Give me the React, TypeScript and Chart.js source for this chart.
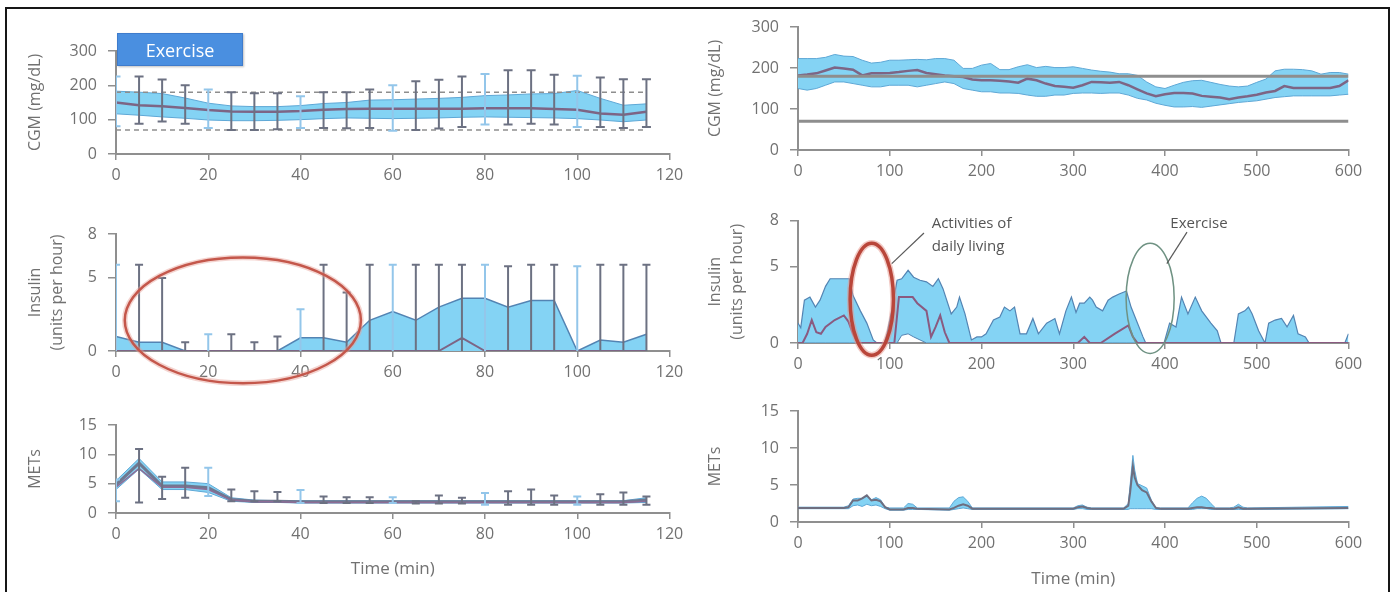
import React, { useEffect, useRef } from "react";
import { Chart, registerables } from "chart.js";

Chart.register(...registerables);

// ================= Left column: exercise session (5-min bins) =================
const exTimes = [0, 5, 10, 15, 20, 25, 30, 35, 40, 45, 50, 55, 60, 65, 70, 75, 80, 85, 90, 95, 100, 105, 110, 115];

const exCgmUpper = [183, 180, 176, 163, 148, 140, 138, 138, 141, 147, 150, 157, 158, 160, 162, 165, 170, 172, 175, 176, 185, 162, 142, 146];
const exCgmLower = [117, 113, 108, 104, 99, 97, 97, 98, 100, 103, 105, 104, 103, 104, 105, 107, 108, 107, 106, 105, 103, 99, 94, 99];
const exCgmMean = [150, 142, 139, 134, 128, 124, 123, 123, 125, 129, 131, 132, 132, 132, 132, 132, 133, 133, 133, 131, 129, 118, 114, 123];
const exCgmHigh = [226, 226, 217, 200, 188, 180, 177, 177, 168, 180, 180, 188, 200, 212, 216, 226, 233, 244, 244, 231, 228, 223, 218, 218];
const exCgmLow = [81, 88, 95, 88, 76, 70, 70, 72, 76, 76, 75, 76, 68, 70, 74, 79, 86, 86, 88, 86, 79, 79, 76, 79];
const cgmTargetHigh = 180;
const cgmTargetLow = 70;

const exInsulinUpper = [1.0, 0.6, 0.6, 0, 0, 0, 0, 0, 0.9, 0.9, 0.6, 2.1, 2.7, 2.1, 3.0, 3.6, 3.6, 3.0, 3.45, 3.45, 0, 0.75, 0.6, 1.15];
const exInsulinMean = [0, 0, 0, 0, 0, 0, 0, 0, 0, 0, 0, 0, 0, 0, 0, 0.9, 0, 0, 0, 0, 0, 0, 0, 0];
const exInsulinHigh = [5.9, 5.9, 5.0, 0.6, 1.15, 1.15, 0.6, 1.0, 2.85, 5.9, 4.0, 5.9, 5.9, 5.9, 5.9, 5.9, 5.9, 5.8, 5.9, 5.9, 5.8, 5.9, 5.9, 5.9];
const insulinBaseline = 0;

const exMetsUpper = [5.5, 9.3, 5.3, 5.3, 5.0, 2.6, 2.2, 2.1, 2.1, 2.1, 2.1, 2.1, 2.1, 2.1, 2.1, 2.1, 2.1, 2.1, 2.1, 2.1, 2.1, 2.1, 2.1, 2.6];
const exMetsMean = [4.8, 8.5, 4.6, 4.6, 4.3, 2.3, 2.0, 2.0, 1.9, 1.9, 1.9, 1.9, 1.9, 1.9, 1.9, 1.9, 1.9, 1.9, 1.9, 1.9, 1.9, 1.9, 1.9, 2.2];
const exMetsMedian = [4.4, 7.6, 4.4, 4.4, 4.0, 2.2, 1.9, 1.9, 1.8, 1.8, 1.8, 1.8, 1.8, 1.8, 1.8, 1.8, 1.8, 1.8, 1.8, 1.8, 1.8, 1.8, 1.8, 2.0];
const exMetsLower = [4.0, 7.5, 4.0, 4.0, 3.5, 2.0, 1.8, 1.8, 1.7, 1.7, 1.7, 1.7, 1.7, 1.7, 1.7, 1.7, 1.7, 1.7, 1.7, 1.7, 1.7, 1.7, 1.7, 1.8];
const exMetsHigh = [5.7, 10.9, 6.2, 7.7, 7.7, 4.0, 3.7, 3.6, 3.9, 2.8, 2.7, 2.7, 2.7, 2.0, 3.0, 2.6, 3.4, 3.7, 4.0, 3.0, 2.8, 3.2, 3.5, 2.8];
const exMetsLow = [2.0, 1.8, 2.4, 2.6, 2.9, 2.0, 2.0, 2.0, 1.7, 1.7, 1.7, 1.7, 1.7, 1.6, 1.6, 1.6, 1.4, 1.4, 1.4, 1.4, 1.4, 1.4, 1.4, 1.4];

// ================= Right column: full day (0-600 min) =================
const dayCgmTimes = [0, 10, 20, 30, 40, 50, 60, 70, 80, 90, 100, 110, 120, 130, 140, 150, 160, 170, 180, 190, 200, 210, 220, 230, 240, 250, 260, 270, 280, 290, 300, 310, 320, 330, 340, 350, 360, 370, 380, 390, 400, 410, 420, 430, 440, 450, 460, 470, 480, 490, 500, 510, 520, 530, 540, 550, 560, 570, 580, 590, 600];
const dayCgmUpper = [223, 223, 223, 226, 233, 229, 228, 219, 212, 214, 219, 219, 220, 221, 220, 223, 223, 219, 199, 199, 207, 211, 196, 196, 203, 208, 201, 204, 201, 201, 203, 199, 195, 192, 190, 186, 186, 182, 166, 154, 150, 158, 165, 169, 170, 165, 160, 156, 154, 156, 165, 173, 193, 197, 197, 196, 193, 185, 189, 189, 185];
const dayCgmLower = [150, 146, 150, 158, 166, 166, 162, 158, 154, 154, 158, 158, 158, 154, 158, 162, 166, 162, 150, 146, 142, 142, 139, 139, 138, 134, 131, 131, 134, 134, 138, 139, 139, 138, 139, 139, 134, 126, 122, 114, 109, 105, 105, 106, 104, 107, 110, 113, 116, 118, 120, 124, 128, 130, 132, 132, 132, 132, 132, 134, 136];
const dayCgmMean = [182, 184, 187, 194, 201, 199, 196, 182, 187, 187, 188, 190, 193, 195, 188, 185, 182, 180, 178, 172, 170, 170, 169, 167, 164, 174, 170, 162, 156, 154, 152, 158, 166, 165, 164, 166, 158, 148, 138, 131, 136, 139, 139, 138, 132, 130, 128, 124, 128, 131, 135, 140, 144, 156, 151, 151, 151, 151, 151, 156, 170];

const dayInsulinTimes = [0, 3, 7, 13, 19, 24, 30, 35, 56, 60, 68, 75, 82, 86, 94, 97, 102, 108, 113, 120, 126, 133, 140, 147, 153, 158, 167, 173, 176, 182, 189, 195, 200, 205, 213, 220, 225, 231, 236, 242, 249, 256, 262, 271, 280, 285, 292, 298, 303, 307, 312, 318, 321, 325, 332, 338, 343, 350, 358, 363, 368, 376, 379, 399, 405, 412, 418, 425, 433, 440, 450, 457, 461, 475, 480, 487, 491, 495, 502, 509, 513, 520, 527, 533, 540, 545, 553, 557, 596, 600];
const dayInsulinUpper = [1.3, 1.0, 2.8, 3.0, 2.35, 2.8, 3.7, 4.2, 4.2, 3.1, 2.1, 1.3, 0.2, 0, 0, 0.6, 2.1, 4.1, 4.2, 4.75, 4.3, 4.1, 4.0, 3.7, 4.2, 3.55, 1.9, 2.35, 3.0, 1.9, 0.2, 0.4, 0.4, 0.6, 1.5, 1.7, 2.35, 2.1, 2.35, 0.6, 0.6, 1.6, 0.6, 1.3, 1.6, 0.6, 2.1, 3.0, 2.0, 2.6, 2.6, 3.0, 2.8, 2.35, 2.1, 2.8, 3.0, 3.2, 3.4, 2.35, 1.6, 0.4, 0, 0, 1.3, 1.05, 3.0, 1.9, 3.0, 2.1, 1.3, 0.8, 0, 0, 1.9, 2.1, 2.35, 1.9, 0.8, 0, 1.3, 1.5, 1.6, 1.05, 1.8, 0.6, 0.4, 0, 0, 0.6];
const dayInsulinLower = [0, 0, 0, 0, 0, 0, 0, 0, 0, 0, 0, 0, 0, 0, 0, 0, 0, 0, 0.5, 0.6, 0.4, 0.2, 0, 0, 0, 0, 0, 0, 0, 0, 0, 0, 0, 0, 0, 0, 0, 0, 0, 0, 0, 0, 0, 0, 0, 0, 0, 0, 0, 0, 0, 0, 0, 0, 0, 0, 0, 0, 0, 0, 0, 0, 0, 0, 0, 0, 0, 0, 0, 0, 0, 0, 0, 0, 0, 0, 0, 0, 0, 0, 0, 0, 0, 0, 0, 0, 0, 0, 0, 0];
const dayInsulinMeanTimes = [0, 5, 10, 15, 20, 25, 30, 40, 50, 55, 60, 65, 105, 110, 125, 130, 140, 145, 150, 155, 160, 165, 305, 312, 318, 330, 345, 360, 365, 370, 600];
const dayInsulinMean = [0, 0, 0.6, 1.5, 0.7, 0.6, 1.05, 1.5, 1.8, 1.4, 0.6, 0, 0, 3.0, 3.0, 2.6, 2.1, 0.4, 1.05, 1.8, 0.7, 0, 0, 0.4, 0, 0, 0.6, 1.15, 0.4, 0, 0];

const dayMetsTimes = [0, 50, 55, 60, 65, 70, 75, 80, 85, 90, 95, 100, 115, 120, 125, 130, 165, 170, 175, 180, 185, 190, 300, 305, 310, 315, 320, 355, 360, 362, 365, 367, 370, 375, 380, 385, 390, 395, 425, 430, 435, 440, 445, 450, 455, 470, 475, 480, 485, 490, 600];
const dayMetsUpper = [2.0, 2.0, 2.2, 3.1, 3.2, 3.2, 3.5, 3.0, 3.3, 3.0, 2.0, 1.9, 1.9, 2.5, 2.4, 1.9, 1.9, 2.8, 3.3, 3.4, 2.8, 1.9, 1.9, 2.2, 2.3, 2.0, 1.9, 1.9, 2.5, 5.0, 9.0, 7.0, 5.2, 4.9, 4.6, 3.0, 1.9, 1.9, 1.9, 2.6, 3.2, 3.5, 3.2, 2.5, 1.9, 1.9, 2.0, 2.4, 2.0, 1.9, 2.1];
const dayMetsMean = [1.9, 1.9, 2.0, 2.9, 2.9, 3.2, 3.6, 2.9, 3.0, 2.8, 2.0, 1.7, 1.7, 1.9, 1.9, 1.8, 1.7, 1.9, 2.2, 2.4, 2.2, 1.8, 1.8, 2.0, 2.1, 1.9, 1.8, 1.8, 2.2, 4.0, 7.5, 6.0, 5.0, 4.3, 4.0, 2.8, 1.9, 1.8, 1.8, 1.9, 2.0, 2.0, 1.9, 1.9, 1.8, 1.8, 1.8, 2.0, 1.8, 1.8, 1.9];
const dayMetsLower = [1.8, 1.8, 1.8, 2.2, 2.3, 2.1, 2.4, 2.2, 2.3, 2.1, 1.8, 1.6, 1.6, 1.7, 1.7, 1.7, 1.6, 1.7, 1.8, 1.9, 1.8, 1.7, 1.7, 1.8, 1.8, 1.7, 1.7, 1.7, 1.7, 1.8, 1.8, 1.8, 1.8, 1.8, 1.8, 1.8, 1.7, 1.7, 1.7, 1.7, 1.8, 1.8, 1.8, 1.7, 1.7, 1.7, 1.7, 1.7, 1.7, 1.7, 1.8];

// ================= Axis tick labels =================
const cgmTicks = [0, 100, 200, 300];
const insulinTicks = [0, 5, 8];
const metsTicks = [0, 5, 10, 15];
const exTimeMax = 120;
const exTimeStep = 20;
const dayTimeMax = 600;
const dayTimeStep = 100;

// ================= Styles =================
const FONT = "'Open Sans', 'Noto Sans', sans-serif";
const TEXT = "#717171";
const AXIS = "#8f8f8f";
const BAND = "#84d3f4";
const BAND_EDGE = "#5fa8d6";
const INS_EDGE = "#5384b3";
const MEAN_PURPLE = "#7d6585";
const MEAN_GREY = "#6f7890";
const WHISKER_DARK = "#6c7182";
const WHISKER_LIGHT = "#93c6ea";
const REF_GREY = "#8e8e8e";

const pts = (xs: number[], ys: number[]) => xs.map((x, i) => ({ x, y: ys[i] }));
const flat = (xs: number[], y: number) => [
  { x: xs[0], y },
  { x: xs[xs.length - 1], y },
];
const isLight = (x: number) => x % 20 === 0;

function whiskerSets(xs: number[], lo: number[] | number, hi: number[], bothCaps: boolean, capR: number) {
  const sets: any[] = [];
  for (const light of [false, true]) {
    const color = light ? WHISKER_LIGHT : WHISKER_DARK;
    const stem: any[] = [];
    const caps: any[] = [];
    xs.forEach((x, i) => {
      if (isLight(x) !== light) return;
      const l = Array.isArray(lo) ? lo[i] : lo;
      stem.push({ x, y: l }, { x, y: hi[i] }, { x, y: null });
      caps.push({ x, y: hi[i] });
      if (bothCaps) caps.push({ x, y: l });
    });
    sets.push({ data: stem, borderColor: color, borderWidth: 2, pointRadius: 0, spanGaps: false, fill: false });
    sets.push({
      data: caps,
      showLine: false,
      pointStyle: "line",
      pointRadius: capR,
      pointHoverRadius: capR,
      pointBorderWidth: 2,
      pointBorderColor: color,
      pointBackgroundColor: color,
      borderColor: color,
      fill: false,
    });
  }
  return sets;
}

interface Spec {
  xMax: number;
  xStep: number;
  yMax: number;
  yTicks: number[];
  yTitle: string | string[];
  xTitle?: string;
  yWidth: number;
  xHeight: number;
  padTop: number;
  padRight: number;
  yTitlePad: number;
  xTitlePad?: number;
}

function makeOptions(s: Spec) {
  const tickFont = { family: FONT, size: 16 };
  return {
    responsive: false,
    maintainAspectRatio: false,
    animation: false,
    devicePixelRatio: 1,
    events: [],
    layout: { padding: { left: 0, right: s.padRight, top: s.padTop, bottom: 0 } },
    plugins: { legend: { display: false }, tooltip: { enabled: false } },
    elements: { point: { radius: 0, hoverRadius: 0 }, line: { tension: 0 } },
    scales: {
      x: {
        type: "linear",
        min: 0,
        max: s.xMax,
        ticks: { stepSize: s.xStep, color: TEXT, font: tickFont, padding: 6, maxRotation: 0, autoSkip: false },
        grid: { drawOnChartArea: false, drawTicks: true, tickLength: 6, color: AXIS, lineWidth: 1.5 },
        border: { display: true, color: AXIS, width: 2 },
        title: s.xTitle
          ? { display: true, text: s.xTitle, color: TEXT, font: { family: FONT, size: 17 }, padding: { top: 0, bottom: s.xTitlePad || 0 } }
          : { display: false },
        afterFit: (sc: any) => {
          sc.height = s.xHeight;
        },
      },
      y: {
        type: "linear",
        min: 0,
        max: s.yMax,
        afterBuildTicks: (sc: any) => {
          sc.ticks = s.yTicks.map((v) => ({ value: v }));
        },
        ticks: { color: TEXT, font: tickFont, padding: 11 },
        grid: { drawOnChartArea: false, drawTicks: true, tickLength: 8, color: AXIS, lineWidth: 1.5 },
        border: { display: true, color: AXIS, width: 2 },
        title: {
          display: true,
          text: s.yTitle,
          color: TEXT,
          font: { family: FONT, size: 16, lineHeight: 1.4 },
          padding: { top: s.yTitlePad, bottom: 0 },
        },
        afterFit: (sc: any) => {
          sc.width = s.yWidth;
        },
      },
    },
  };
}

const LEFT = { left: 0, width: 690, yWidth: 116, padRight: 20.5, yTitlePad: 24 };
const RIGHT = { left: 690, width: 705, yWidth: 108, padRight: 46.5, yTitlePad: 14 };

// ---------- annotation helpers (drawn through chart scales) ----------
interface Ell {
  cx: number;
  cy: number;
  rx: number;
  ry: number;
  color: string;
  glow?: string;
  width: number;
}
function ellipsePlugin(id: string, ells: Ell[], texts: any[], leaders: any[]) {
  return {
    id,
    afterDatasetsDraw(chart: any) {
      const { ctx } = chart;
      const x = chart.scales.x;
      const y = chart.scales.y;
      ctx.save();
      for (const e of ells) {
        const px = x.getPixelForValue(e.cx);
        const py = y.getPixelForValue(e.cy);
        const rx = Math.abs(x.getPixelForValue(e.cx + e.rx) - px);
        const ry = Math.abs(y.getPixelForValue(e.cy + e.ry) - py);
        if (e.glow) {
          ctx.beginPath();
          ctx.ellipse(px, py, rx, ry, 0, 0, Math.PI * 2);
          ctx.strokeStyle = e.glow;
          ctx.lineWidth = e.width + 3;
          ctx.stroke();
        }
        ctx.beginPath();
        ctx.ellipse(px, py, rx, ry, 0, 0, Math.PI * 2);
        ctx.strokeStyle = e.color;
        ctx.lineWidth = e.width;
        ctx.stroke();
      }
      for (const l of leaders) {
        ctx.beginPath();
        ctx.moveTo(x.getPixelForValue(l.x1), y.getPixelForValue(l.y1));
        ctx.lineTo(x.getPixelForValue(l.x2), y.getPixelForValue(l.y2));
        ctx.strokeStyle = "#5a5a5a";
        ctx.lineWidth = 1.2;
        ctx.stroke();
      }
      ctx.font = `15px ${FONT}`;
      ctx.fillStyle = "#555555";
      ctx.textBaseline = "middle";
      for (const t of texts) {
        ctx.textAlign = t.align;
        ctx.fillText(t.text, x.getPixelForValue(t.x), y.getPixelForValue(t.y));
      }
      ctx.restore();
    },
  };
}

// ---------- panel configs ----------
function cgmExerciseConfig() {
  const ds: any[] = [];
  ds.push(...whiskerSets(exTimes, exCgmLow, exCgmHigh, true, 4.5));
  ds.push({ data: pts(exTimes, exCgmMean), borderColor: MEAN_PURPLE, borderWidth: 2.5, pointRadius: 0, fill: false });
  ds.push({ data: flat(exTimes, cgmTargetHigh), borderColor: REF_GREY, borderWidth: 1.5, borderDash: [5, 4], pointRadius: 0, fill: false });
  ds.push({ data: flat(exTimes, cgmTargetLow), borderColor: REF_GREY, borderWidth: 1.5, borderDash: [5, 4], pointRadius: 0, fill: false });
  const lowerIdx = ds.length;
  ds.push({ data: pts(exTimes, exCgmLower), borderColor: BAND_EDGE, borderWidth: 1, pointRadius: 0, fill: false });
  ds.push({ data: pts(exTimes, exCgmUpper), borderColor: BAND_EDGE, borderWidth: 1, pointRadius: 0, fill: lowerIdx, backgroundColor: BAND });
  return {
    type: "line",
    data: { datasets: ds },
    options: makeOptions({
      xMax: exTimeMax, xStep: exTimeStep, yMax: 300, yTicks: cgmTicks, yTitle: "CGM (mg/dL)",
      yWidth: LEFT.yWidth, xHeight: 46, padTop: 51, padRight: LEFT.padRight, yTitlePad: LEFT.yTitlePad,
    }),
  };
}

function insulinExerciseConfig() {
  const ds: any[] = [];
  ds.push(...whiskerSets(exTimes, insulinBaseline, exInsulinHigh, false, 4));
  ds.push({ data: pts(exTimes, exInsulinMean), borderColor: MEAN_PURPLE, borderWidth: 2, pointRadius: 0, fill: false });
  ds.push({ data: pts(exTimes, exInsulinUpper), borderColor: INS_EDGE, borderWidth: 1.5, pointRadius: 0, fill: "origin", backgroundColor: BAND });
  return {
    type: "line",
    data: { datasets: ds },
    options: makeOptions({
      xMax: exTimeMax, xStep: exTimeStep, yMax: 8, yTicks: insulinTicks, yTitle: ["Insulin", "(units per hour)"],
      yWidth: LEFT.yWidth, xHeight: 39, padTop: 34, padRight: LEFT.padRight, yTitlePad: LEFT.yTitlePad,
    }),
    plugins: [
      ellipsePlugin("exInsEllipse", [{ cx: 27.5, cy: 2.1, rx: 25.6, ry: 4.3, color: "#c4574b", glow: "rgba(230,160,150,0.45)", width: 2.5 }], [], []),
    ],
  };
}

function metsExerciseConfig() {
  const ds: any[] = [];
  ds.push(...whiskerSets(exTimes, exMetsLow, exMetsHigh, true, 4));
  ds.push({ data: pts(exTimes, exMetsMedian), borderColor: "#8d6c95", borderWidth: 1.5, pointRadius: 0, fill: false });
  ds.push({ data: pts(exTimes, exMetsMean), borderColor: MEAN_GREY, borderWidth: 3, pointRadius: 0, fill: false });
  const lowerIdx = ds.length;
  ds.push({ data: pts(exTimes, exMetsLower), borderColor: BAND_EDGE, borderWidth: 1, pointRadius: 0, fill: false });
  ds.push({ data: pts(exTimes, exMetsUpper), borderColor: BAND_EDGE, borderWidth: 1, pointRadius: 0, fill: lowerIdx, backgroundColor: BAND });
  return {
    type: "line",
    data: { datasets: ds },
    options: makeOptions({
      xMax: exTimeMax, xStep: exTimeStep, yMax: 15, yTicks: metsTicks, yTitle: "METs", xTitle: "Time (min)",
      yWidth: LEFT.yWidth, xHeight: 79, padTop: 35, padRight: LEFT.padRight, yTitlePad: LEFT.yTitlePad, xTitlePad: 13,
    }),
  };
}

function cgmDayConfig() {
  const ds: any[] = [];
  ds.push({ data: flat(dayCgmTimes, cgmTargetHigh), borderColor: REF_GREY, borderWidth: 3, pointRadius: 0, fill: false });
  ds.push({ data: flat(dayCgmTimes, cgmTargetLow), borderColor: REF_GREY, borderWidth: 3, pointRadius: 0, fill: false });
  ds.push({ data: pts(dayCgmTimes, dayCgmMean), borderColor: MEAN_PURPLE, borderWidth: 2.5, pointRadius: 0, fill: false });
  const lowerIdx = ds.length;
  ds.push({ data: pts(dayCgmTimes, dayCgmLower), borderColor: BAND_EDGE, borderWidth: 1, pointRadius: 0, fill: false });
  ds.push({ data: pts(dayCgmTimes, dayCgmUpper), borderColor: BAND_EDGE, borderWidth: 1, pointRadius: 0, fill: lowerIdx, backgroundColor: BAND });
  return {
    type: "line",
    data: { datasets: ds },
    options: makeOptions({
      xMax: dayTimeMax, xStep: dayTimeStep, yMax: 300, yTicks: cgmTicks, yTitle: "CGM (mg/dL)",
      yWidth: RIGHT.yWidth, xHeight: 50, padTop: 27, padRight: RIGHT.padRight, yTitlePad: RIGHT.yTitlePad,
    }),
  };
}

function insulinDayConfig() {
  const ds: any[] = [];
  ds.push({ data: pts(dayInsulinMeanTimes, dayInsulinMean), borderColor: "#8a5a80", borderWidth: 2, pointRadius: 0, fill: false });
  const lowerIdx = ds.length;
  ds.push({ data: pts(dayInsulinTimes, dayInsulinLower), borderColor: INS_EDGE, borderWidth: 1, pointRadius: 0, fill: false });
  ds.push({ data: pts(dayInsulinTimes, dayInsulinUpper), borderColor: INS_EDGE, borderWidth: 1.2, pointRadius: 0, fill: lowerIdx, backgroundColor: BAND });
  return {
    type: "line",
    data: { datasets: ds },
    options: makeOptions({
      xMax: dayTimeMax, xStep: dayTimeStep, yMax: 8, yTicks: insulinTicks, yTitle: ["Insulin", "(units per hour)"],
      yWidth: RIGHT.yWidth, xHeight: 47, padTop: 20.5, padRight: RIGHT.padRight, yTitlePad: RIGHT.yTitlePad,
    }),
    plugins: [
      ellipsePlugin(
        "dayInsEllipse",
        [
          { cx: 80.4, cy: 2.86, rx: 23.6, ry: 3.66, color: "#b9463a", glow: "rgba(230,150,140,0.5)", width: 3.5 },
          { cx: 383.8, cy: 2.92, rx: 26.2, ry: 3.6, color: "#6f9283", width: 1.5 },
        ],
        [
          { text: "Activities of", x: 145.7, y: 7.8, align: "left" },
          { text: "daily living", x: 145.7, y: 6.27, align: "left" },
          { text: "Exercise", x: 437, y: 7.8, align: "center" },
        ],
        [
          { x1: 137.3, y1: 7.19, x2: 102.2, y2: 5.19 },
          { x1: 424, y1: 7.25, x2: 402, y2: 5.19 },
        ]
      ),
    ],
  };
}

function metsDayConfig() {
  const ds: any[] = [];
  ds.push({ data: pts(dayMetsTimes, dayMetsMean), borderColor: "#6e6e80", borderWidth: 2, pointRadius: 0, fill: false });
  const lowerIdx = ds.length;
  ds.push({ data: pts(dayMetsTimes, dayMetsLower), borderColor: BAND_EDGE, borderWidth: 1, pointRadius: 0, fill: false });
  ds.push({ data: pts(dayMetsTimes, dayMetsUpper), borderColor: BAND_EDGE, borderWidth: 1, pointRadius: 0, fill: lowerIdx, backgroundColor: BAND });
  return {
    type: "line",
    data: { datasets: ds },
    options: makeOptions({
      xMax: dayTimeMax, xStep: dayTimeStep, yMax: 15, yTicks: metsTicks, yTitle: "METs", xTitle: "Time (min)",
      yWidth: RIGHT.yWidth, xHeight: 70, padTop: 21, padRight: RIGHT.padRight, yTitlePad: RIGHT.yTitlePad, xTitlePad: 3,
    }),
  };
}

function Panel(props: { left: number; top: number; width: number; height: number; build: () => any }) {
  const ref = useRef<HTMLCanvasElement>(null);
  useEffect(() => {
    if (!ref.current) return;
    const chart = new Chart(ref.current, props.build());
    return () => chart.destroy();
  }, []);
  return (
    <canvas
      ref={ref}
      width={props.width}
      height={props.height}
      style={{ position: "absolute", left: props.left, top: props.top, width: props.width, height: props.height }}
    />
  );
}

export default function App() {
  return (
    <div style={{ position: "fixed", left: 0, top: 0, width: 1395, height: 592, background: "#ffffff", overflow: "hidden" }}>
      <Panel left={LEFT.left} top={0} width={LEFT.width} height={200} build={cgmExerciseConfig} />
      <Panel left={LEFT.left} top={200} width={LEFT.width} height={190} build={insulinExerciseConfig} />
      <Panel left={LEFT.left} top={390} width={LEFT.width} height={202} build={metsExerciseConfig} />
      <Panel left={RIGHT.left} top={0} width={RIGHT.width} height={200} build={cgmDayConfig} />
      <Panel left={RIGHT.left} top={200} width={RIGHT.width} height={190} build={insulinDayConfig} />
      <Panel left={RIGHT.left} top={390} width={RIGHT.width} height={202} build={metsDayConfig} />
      <div
        style={{
          position: "absolute",
          left: 117,
          top: 33,
          width: 126,
          height: 33,
          background: "#4a8fe0",
          border: "1px solid #3f7ccc",
          boxSizing: "border-box",
          boxShadow: "1px 1px 2px rgba(0,0,0,0.25)",
          color: "#ffffff",
          fontFamily: FONT,
          fontSize: 18,
          display: "flex",
          alignItems: "center",
          justifyContent: "center",
        }}
      >
        Exercise
      </div>
      <div
        style={{
          position: "absolute",
          left: 5,
          top: 7,
          width: 1385,
          height: 600,
          border: "2px solid #161616",
          boxSizing: "border-box",
          pointerEvents: "none",
        }}
      />
    </div>
  );
}
